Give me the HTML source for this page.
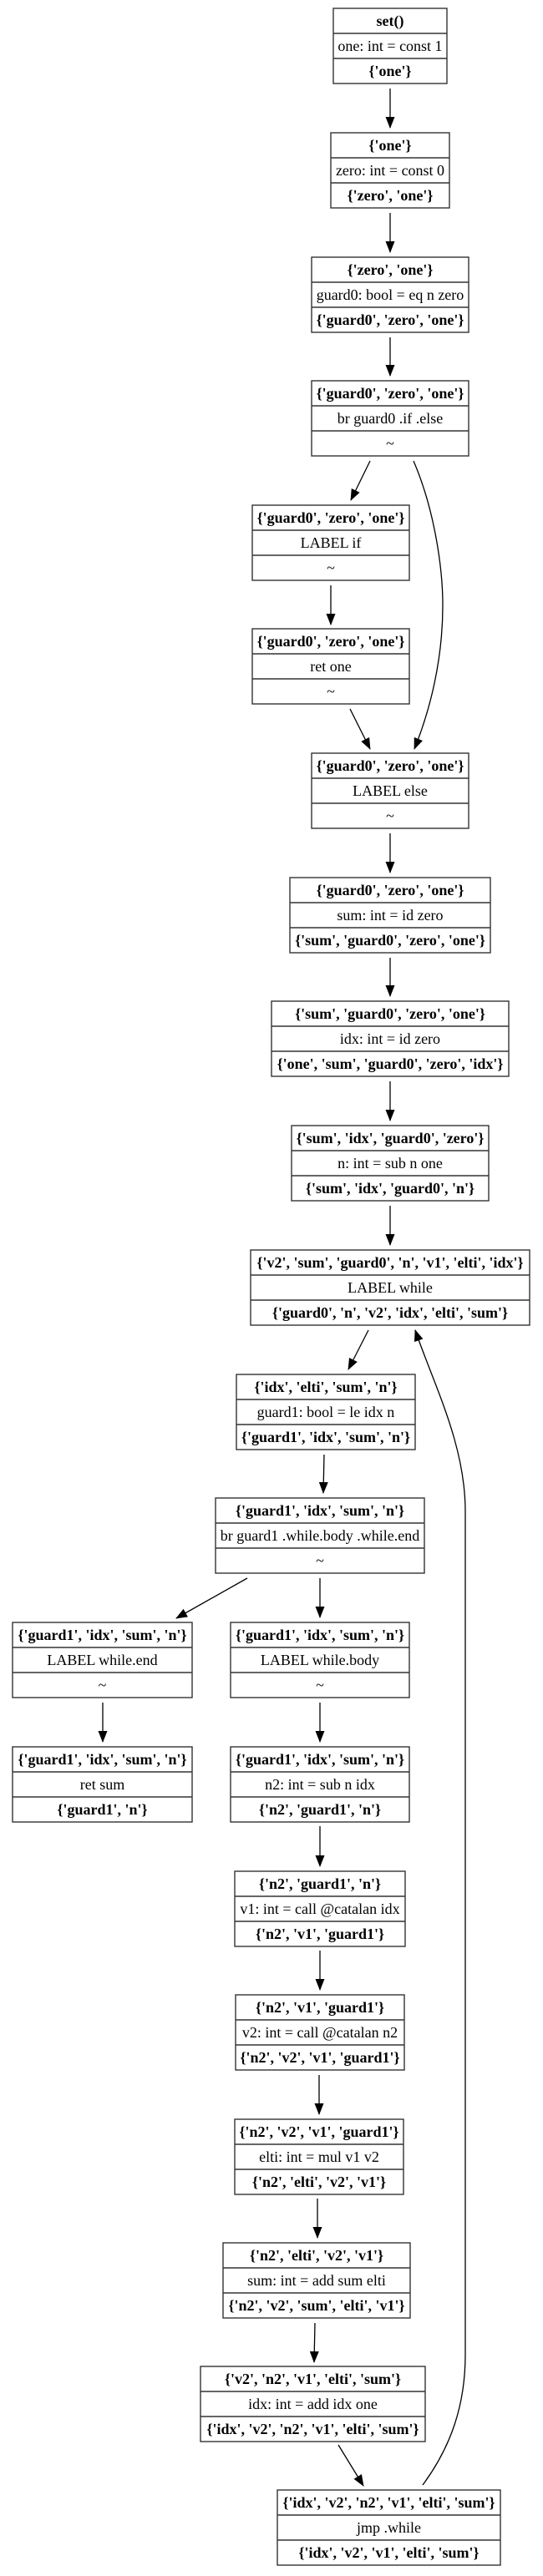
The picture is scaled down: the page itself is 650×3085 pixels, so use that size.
<!DOCTYPE html>
<html><head><meta charset="utf-8"><style>
html,body{margin:0;padding:0;background:#fff;width:650px;height:3085px;overflow:hidden}
svg{display:block}
text{font-family:"Liberation Serif",serif;font-size:18px;fill:#000;text-anchor:middle}
.b{font-weight:bold}
rect,line{stroke:#333;stroke-width:1.4;fill:none}
path.e{stroke:#000;stroke-width:1.3;fill:none}
</style></head><body>
<svg width="650" height="3085" viewBox="0 0 650 3085" xmlns="http://www.w3.org/2000/svg">
<defs><marker id="ah" markerWidth="14" markerHeight="11" refX="13" refY="5.5" orient="auto" markerUnits="userSpaceOnUse"><path d="M0,0 L14,5.5 L0,11 z" fill="#000"/></marker></defs>

<g transform="translate(399,10)"><rect width="136" height="90"/><line x1="0" y1="30" x2="136" y2="30"/><line x1="0" y1="60" x2="136" y2="60"/><text class="b" x="68" y="21">set()</text><text x="68" y="51">one: int = const 1</text><text class="b" x="68" y="81">{'one'}</text></g>
<g transform="translate(396,159)"><rect width="142" height="90"/><line x1="0" y1="30" x2="142" y2="30"/><line x1="0" y1="60" x2="142" y2="60"/><text class="b" x="71" y="21">{'one'}</text><text x="71" y="51">zero: int = const 0</text><text class="b" x="71" y="81">{'zero', 'one'}</text></g>
<g transform="translate(373,308)"><rect width="188" height="90"/><line x1="0" y1="30" x2="188" y2="30"/><line x1="0" y1="60" x2="188" y2="60"/><text class="b" x="94" y="21">{'zero', 'one'}</text><text x="94" y="51">guard0: bool = eq n zero</text><text class="b" x="94" y="81">{'guard0', 'zero', 'one'}</text></g>
<g transform="translate(373,456)"><rect width="188" height="90"/><line x1="0" y1="30" x2="188" y2="30"/><line x1="0" y1="60" x2="188" y2="60"/><text class="b" x="94" y="21">{'guard0', 'zero', 'one'}</text><text x="94" y="51">br guard0 .if .else</text><text x="94" y="81">~</text></g>
<g transform="translate(302,605)"><rect width="188" height="90"/><line x1="0" y1="30" x2="188" y2="30"/><line x1="0" y1="60" x2="188" y2="60"/><text class="b" x="94" y="21">{'guard0', 'zero', 'one'}</text><text x="94" y="51">LABEL if</text><text x="94" y="81">~</text></g>
<g transform="translate(302,753)"><rect width="188" height="90"/><line x1="0" y1="30" x2="188" y2="30"/><line x1="0" y1="60" x2="188" y2="60"/><text class="b" x="94" y="21">{'guard0', 'zero', 'one'}</text><text x="94" y="51">ret one</text><text x="94" y="81">~</text></g>
<g transform="translate(373,902)"><rect width="188" height="90"/><line x1="0" y1="30" x2="188" y2="30"/><line x1="0" y1="60" x2="188" y2="60"/><text class="b" x="94" y="21">{'guard0', 'zero', 'one'}</text><text x="94" y="51">LABEL else</text><text x="94" y="81">~</text></g>
<g transform="translate(347,1051)"><rect width="240" height="90"/><line x1="0" y1="30" x2="240" y2="30"/><line x1="0" y1="60" x2="240" y2="60"/><text class="b" x="120" y="21">{'guard0', 'zero', 'one'}</text><text x="120" y="51">sum: int = id zero</text><text class="b" x="120" y="81">{'sum', 'guard0', 'zero', 'one'}</text></g>
<g transform="translate(325,1199)"><rect width="284" height="90"/><line x1="0" y1="30" x2="284" y2="30"/><line x1="0" y1="60" x2="284" y2="60"/><text class="b" x="142" y="21">{'sum', 'guard0', 'zero', 'one'}</text><text x="142" y="51">idx: int = id zero</text><text class="b" x="142" y="81">{'one', 'sum', 'guard0', 'zero', 'idx'}</text></g>
<g transform="translate(349,1348)"><rect width="236" height="90"/><line x1="0" y1="30" x2="236" y2="30"/><line x1="0" y1="60" x2="236" y2="60"/><text class="b" x="118" y="21">{'sum', 'idx', 'guard0', 'zero'}</text><text x="118" y="51">n: int = sub n one</text><text class="b" x="118" y="81">{'sum', 'idx', 'guard0', 'n'}</text></g>
<g transform="translate(300,1497)"><rect width="334" height="90"/><line x1="0" y1="30" x2="334" y2="30"/><line x1="0" y1="60" x2="334" y2="60"/><text class="b" x="167" y="21">{'v2', 'sum', 'guard0', 'n', 'v1', 'elti', 'idx'}</text><text x="167" y="51">LABEL while</text><text class="b" x="167" y="81">{'guard0', 'n', 'v2', 'idx', 'elti', 'sum'}</text></g>
<g transform="translate(283,1646)"><rect width="214" height="90"/><line x1="0" y1="30" x2="214" y2="30"/><line x1="0" y1="60" x2="214" y2="60"/><text class="b" x="107" y="21">{'idx', 'elti', 'sum', 'n'}</text><text x="107" y="51">guard1: bool = le idx n</text><text class="b" x="107" y="81">{'guard1', 'idx', 'sum', 'n'}</text></g>
<g transform="translate(258,1794)"><rect width="250" height="90"/><line x1="0" y1="30" x2="250" y2="30"/><line x1="0" y1="60" x2="250" y2="60"/><text class="b" x="125" y="21">{'guard1', 'idx', 'sum', 'n'}</text><text x="125" y="51">br guard1 .while.body .while.end</text><text x="125" y="81">~</text></g>
<g transform="translate(15,1943)"><rect width="215" height="90"/><line x1="0" y1="30" x2="215" y2="30"/><line x1="0" y1="60" x2="215" y2="60"/><text class="b" x="107.5" y="21">{'guard1', 'idx', 'sum', 'n'}</text><text x="107.5" y="51">LABEL while.end</text><text x="107.5" y="81">~</text></g>
<g transform="translate(276,1943)"><rect width="214" height="90"/><line x1="0" y1="30" x2="214" y2="30"/><line x1="0" y1="60" x2="214" y2="60"/><text class="b" x="107" y="21">{'guard1', 'idx', 'sum', 'n'}</text><text x="107" y="51">LABEL while.body</text><text x="107" y="81">~</text></g>
<g transform="translate(15,2092)"><rect width="215" height="90"/><line x1="0" y1="30" x2="215" y2="30"/><line x1="0" y1="60" x2="215" y2="60"/><text class="b" x="107.5" y="21">{'guard1', 'idx', 'sum', 'n'}</text><text x="107.5" y="51">ret sum</text><text class="b" x="107.5" y="81">{'guard1', 'n'}</text></g>
<g transform="translate(276,2092)"><rect width="214" height="90"/><line x1="0" y1="30" x2="214" y2="30"/><line x1="0" y1="60" x2="214" y2="60"/><text class="b" x="107" y="21">{'guard1', 'idx', 'sum', 'n'}</text><text x="107" y="51">n2: int = sub n idx</text><text class="b" x="107" y="81">{'n2', 'guard1', 'n'}</text></g>
<g transform="translate(281,2241)"><rect width="204" height="90"/><line x1="0" y1="30" x2="204" y2="30"/><line x1="0" y1="60" x2="204" y2="60"/><text class="b" x="102" y="21">{'n2', 'guard1', 'n'}</text><text x="102" y="51">v1: int = call @catalan idx</text><text class="b" x="102" y="81">{'n2', 'v1', 'guard1'}</text></g>
<g transform="translate(282,2389)"><rect width="202" height="90"/><line x1="0" y1="30" x2="202" y2="30"/><line x1="0" y1="60" x2="202" y2="60"/><text class="b" x="101" y="21">{'n2', 'v1', 'guard1'}</text><text x="101" y="51">v2: int = call @catalan n2</text><text class="b" x="101" y="81">{'n2', 'v2', 'v1', 'guard1'}</text></g>
<g transform="translate(281,2538)"><rect width="202" height="90"/><line x1="0" y1="30" x2="202" y2="30"/><line x1="0" y1="60" x2="202" y2="60"/><text class="b" x="101" y="21">{'n2', 'v2', 'v1', 'guard1'}</text><text x="101" y="51">elti: int = mul v1 v2</text><text class="b" x="101" y="81">{'n2', 'elti', 'v2', 'v1'}</text></g>
<g transform="translate(267,2686)"><rect width="224" height="90"/><line x1="0" y1="30" x2="224" y2="30"/><line x1="0" y1="60" x2="224" y2="60"/><text class="b" x="112" y="21">{'n2', 'elti', 'v2', 'v1'}</text><text x="112" y="51">sum: int = add sum elti</text><text class="b" x="112" y="81">{'n2', 'v2', 'sum', 'elti', 'v1'}</text></g>
<g transform="translate(240,2834)"><rect width="269" height="90"/><line x1="0" y1="30" x2="269" y2="30"/><line x1="0" y1="60" x2="269" y2="60"/><text class="b" x="134.5" y="21">{'v2', 'n2', 'v1', 'elti', 'sum'}</text><text x="134.5" y="51">idx: int = add idx one</text><text class="b" x="134.5" y="81">{'idx', 'v2', 'n2', 'v1', 'elti', 'sum'}</text></g>
<g transform="translate(332,2982)"><rect width="267" height="90"/><line x1="0" y1="30" x2="267" y2="30"/><line x1="0" y1="60" x2="267" y2="60"/><text class="b" x="133.5" y="21">{'idx', 'v2', 'n2', 'v1', 'elti', 'sum'}</text><text x="133.5" y="51">jmp .while</text><text class="b" x="133.5" y="81">{'idx', 'v2', 'v1', 'elti', 'sum'}</text></g>

<path class="e" marker-end="url(#ah)" d="M467,106 L467,153"/>
<path class="e" marker-end="url(#ah)" d="M467,255 L467,302"/>
<path class="e" marker-end="url(#ah)" d="M467,404 L467,450"/>
<path class="e" marker-end="url(#ah)" d="M443,552 L420,599"/>
<path class="e" marker-end="url(#ah)" d="M495,552 C520,610 530,680 530,725 C530,790 515,850 496,897"/>
<path class="e" marker-end="url(#ah)" d="M396,701 L396,748"/>
<path class="e" marker-end="url(#ah)" d="M419,849 L443,897"/>
<path class="e" marker-end="url(#ah)" d="M467,998 L467,1045"/>
<path class="e" marker-end="url(#ah)" d="M467,1147 L467,1193"/>
<path class="e" marker-end="url(#ah)" d="M467,1295 L467,1342"/>
<path class="e" marker-end="url(#ah)" d="M467,1444 L467,1491"/>
<path class="e" marker-end="url(#ah)" d="M441,1593 L417,1640"/>
<path class="e" marker-end="url(#ah)" d="M388,1742 L387,1788"/>
<path class="e" marker-end="url(#ah)" d="M296,1890 L211,1938"/>
<path class="e" marker-end="url(#ah)" d="M383,1890 L383,1937"/>
<path class="e" marker-end="url(#ah)" d="M123,2039 L123,2086"/>
<path class="e" marker-end="url(#ah)" d="M383,2039 L383,2086"/>
<path class="e" marker-end="url(#ah)" d="M383,2187 L383,2235"/>
<path class="e" marker-end="url(#ah)" d="M383,2336 L383,2383"/>
<path class="e" marker-end="url(#ah)" d="M382,2485 L382,2532"/>
<path class="e" marker-end="url(#ah)" d="M380,2633 L380,2680"/>
<path class="e" marker-end="url(#ah)" d="M377,2782 L376,2829"/>
<path class="e" marker-end="url(#ah)" d="M405,2928 L435,2977"/>
<path class="e" marker-end="url(#ah)" d="M506,2976 C540,2930 557,2880 557,2820 L557,1810 C557,1730 520,1660 497,1593"/>
</svg>
</body></html>
